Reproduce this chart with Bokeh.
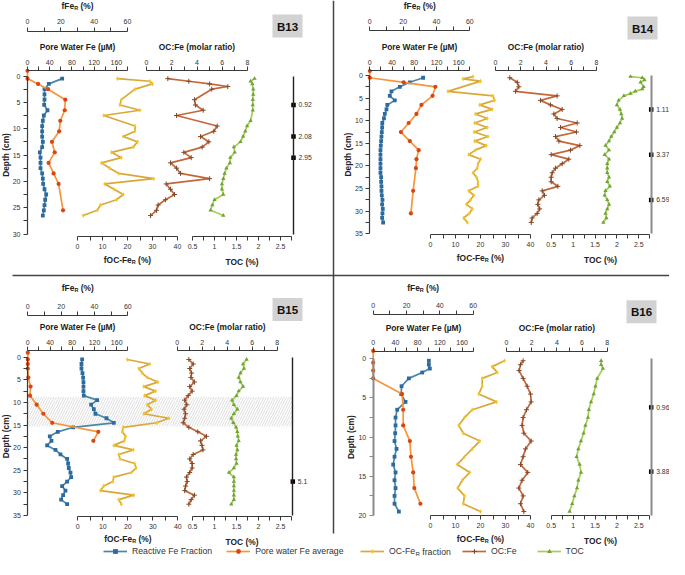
import math
from bokeh.plotting import figure
from bokeh.models import (Range1d, LinearAxis, FixedTicker, NumeralTickFormatter,
                          Legend, LegendItem)
from bokeh.core.properties import value
from bokeh.embed import file_html
from bokeh.resources import INLINE

# ======================= DATA =======================
# ---- B13 ----
b13_fe_depth = [0.5, 1.5, 2.5, 3.5, 4.5, 5.5, 6.5, 7.5, 8.5, 9.5, 10.5, 11.5, 12.5, 13.5,
                14.5, 15.5, 16.5, 17.5, 18.5, 19.5, 20.5, 21.5, 22.5, 23.5, 24.5, 25.5, 26.5]
b13_fe = [20.8, 12.8, 10.2, 10.2, 10.2, 10.0, 12.0, 9.8, 9.2, 8.8, 8.8, 8.8, 9.2, 8.8,
          7.4, 7.8, 7.8, 7.8, 8.8, 9.2, 9.4, 10.2, 11.2, 10.6, 10.2, 9.8, 9.2]
b13_pw_depth = [-1, 0.5, 1.5, 2.5, 4.5, 6.5, 8.5, 10.5, 12.5, 14.5, 16.5, 18.5, 20.5, 25.5]
b13_pw = [0, 0, 19, 37, 68, 67, 59, 57, 44, 49, 38, 47, 56, 64]
b13_frac_depth = [0.5, 1.0, 1.5, 2.5, 4.5, 5.5, 6.5, 7.5, 9.5, 10.5, 11.5, 12.5, 13.5, 14.5,
                  15.5, 16.5, 17.5, 18.5, 19.5, 20.5, 21.5, 22.5, 23.5, 24.5, 25.5, 26.5]
b13_frac = [16, 29, 30, 23, 17.5, 17, 25, 10.5, 23, 23, 18.3, 24, 22.3, 13.6,
            17.5, 9.6, 12.9, 16.5, 30.5, 10.9, 14.6, 18.3, 15.6, 9.2, 7.9, 2.3]
b13_ratio_depth = [0.5, 1.0, 1.5, 2.0, 2.5, 4.5, 5.5, 6.5, 7.5, 9.5, 10.5, 11.5, 12.5, 13.5,
                   14.5, 15.5, 16.5, 17.5, 18.5, 19.5, 20.5, 21.5, 22.5, 23.5, 24.5, 25.5, 26.5]
b13_ratio = [1.69, 3.35, 5.0, 6.44, 5.17, 3.8, 3.88, 4.49, 2.38, 5.6, 5.33, 4.28, 4.94, 4.41,
             2.96, 3.54, 1.9, 2.38, 2.69, 5.0, 1.56, 1.9, 2.22, 1.5, 0.92, 0.79, 0.32]
b13_toc_depth = [0.5, 1.0, 1.5, 2.5, 3.5, 4.5, 5.5, 6.5, 8.5, 9.5, 10.5, 11.5, 12.5, 13.5,
                 14.5, 15.5, 16.5, 17.5, 18.5, 19.5, 20.5, 21.5, 22.5, 23.5, 24.5, 25.5, 26.5]
b13_toc = [1.91, 1.82, 1.86, 1.88, 1.88, 1.87, 1.87, 1.87, 1.82, 1.74, 1.70, 1.65, 1.59, 1.44,
           1.46, 1.36, 1.35, 1.27, 1.23, 1.20, 1.17, 1.17, 1.20, 1.00, 0.95, 0.91, 1.20]
b13_mark_depth = [5.5, 11.5, 15.5]
b13_mark_label = ["0.92", "2.08", "2.95"]

# ---- B14 ----
b14_fe_depth = [0.5, 1.5, 2.5, 3.5, 4.5, 5.5, 6.5, 7.5, 8.5, 9.5, 10.5, 11.5, 12.5, 13.5, 14.5,
                15.5, 16.5, 17.5, 18.5, 19.5, 20.5, 21.5, 22.5, 23.5, 24.5, 25.5, 26.5, 27.5,
                28.5, 29.5, 30.5, 31.5, 32.5]
b14_fe = [32, 24, 18, 13, 12, 15, 10.5, 10, 9, 8.5, 7.5, 7.4, 7.2, 7, 6.8,
          6.6, 6.4, 6.4, 6.4, 6.4, 6.4, 6.4, 6.8, 6.8, 7.0, 7.0, 7.2, 7.6,
          7.4, 7.8, 7.6, 7.4, 8.0]
b14_pw_depth = [-1, 0.5, 1.5, 2.5, 4.5, 6.5, 8.5, 10.5, 12.5, 14.5, 16.5, 18.5, 20.5, 25.5, 30.5]
b14_pw = [0, 0, 61, 118, 113, 93, 84, 70, 56, 72, 88, 84, 83, 78, 74]
b14_frac_depth = [0.25, 0.75, 1.25, 3.5, 4.5, 5.5, 6.5, 7.5, 8.5, 9.5, 10.5, 11.5, 12.5, 13.5,
                  14.5, 15.5, 16.5, 17.5, 18.5, 19.5, 20.5, 21.5, 22.5, 23.5, 24.5, 25.5,
                  26.5, 27.5, 28.5, 29.5, 30.5, 31.5, 32.5]
b14_frac = [17, 13, 20, 7, 25, 25.6, 19.7, 24.7, 18, 22.7, 17.7, 22.7, 17.5, 23,
            17.7, 22.3, 17.9, 15.3, 20, 19, 18.7, 17, 18.4, 19, 19, 15.3,
            17.3, 16, 14.4, 16.7, 15.5, 13.3, 14.7]
b14_ratio_depth = b14_fe_depth
b14_ratio = [1.13, 1.72, 1.85, 1.58, 4.88, 3.56, 4.36, 5.28, 4.62, 4.88, 6.47, 5.15, 6.41, 4.75,
             5.02, 6.68, 5.94, 4.41, 5.81, 5.28, 4.75, 4.49, 4.41, 4.41, 4.94, 3.7, 3.88, 3.43,
             3.35, 3.5, 3.3, 2.9, 2.83]
b14_toc_depth = [0.25, 0.5, 1.0, 1.5, 2.5, 3.0, 3.5, 4.0, 4.5, 5.5, 6.5, 7.5, 8.5, 9.5, 10.5,
                 11.5, 12.5, 13.5, 14.5, 15.5, 16.5, 17.5, 18.5, 19.5, 20.5, 21.5, 22.5, 23.5,
                 24.5, 25.5, 26.5, 27.5, 28.5, 29.5, 30.5, 31.5, 32.5]
b14_toc = [2.31, 2.58, 2.63, 2.54, 2.61, 2.58, 2.42, 2.31, 2.16, 2.04, 2.0, 2.07, 2.1, 2.12, 2.07,
           2.0, 1.94, 1.87, 1.82, 1.74, 1.82, 1.72, 1.82, 1.78, 1.78, 1.78, 1.82, 1.78,
           1.84, 1.74, 1.72, 1.78, 1.82, 1.78, 1.74, 1.76, 1.69]
b14_mark_depth = [7.5, 17.5, 27.5]
b14_mark_label = ["1.11", "3.37", "6.59"]

# ---- B15 ----
b15_fe_depth = [0.5, 1.5, 2.5, 3.5, 4.5, 5.5, 6.5, 7.5, 8.5, 9.5, 10.5, 11.5, 12.5, 13.5, 14.5,
                15.5, 16.5, 17.5, 18.5, 19.5, 20.5, 21.5, 22.5, 23.5, 24.5, 25.5, 26.5, 27.5,
                28.5, 29.5, 30.5, 31.5, 32.5]
b15_fe = [32.6, 32.2, 32.2, 32.8, 33.2, 33.4, 33.4, 33.4, 33.6, 41.6, 38, 39.6, 40.6, 47.2, 51.6,
          27.2, 18, 13.2, 14.2, 11.6, 16.6, 19.6, 23.6, 24.2, 24.6, 25.6, 26, 23.6,
          20.6, 22.6, 21.2, 20, 23.6]
b15_pw_depth = [-1, 0.5, 1.5, 2.5, 4.5, 6.5, 8.5, 10.5, 12.5, 14.5, 16.5, 18.5]
b15_pw = [0, 0, 0, 0, 1, 5, 4, 16, 28, 44, 127, 118]
b15_frac_depth = b15_fe_depth
b15_frac = [19.8, 28.8, 24.4, 25.8, 27.8, 32, 26.4, 31.1, 26.7, 31.1, 27.8, 29.5, 26.4, 36.4, 31.5,
            18.2, 17.8, 19.1, 18.6, 14.4, 22.2, 16.4, 16.9, 22.7, 23.3, 21.4, 14.4, 14,
            10.4, 9.1, 22.4, 16.4, 17.4]
b15_ratio_depth = b15_fe_depth
b15_ratio = [0.93, 1.28, 1.0, 1.15, 1.1, 1.38, 1.0, 1.2, 0.88, 0.6, 0.77, 0.55, 0.67, 0.6, 0.48,
             0.93, 1.65, 2.34, 1.86, 1.98, 2.06, 1.28, 1.0, 1.2, 1.2, 1.0, 0.74, 0.8,
             0.67, 0.6, 1.38, 1.12, 0.93]
b15_toc_depth = b15_fe_depth
b15_toc = [1.73, 1.65, 1.67, 1.59, 1.55, 1.59, 1.65, 1.55, 1.50, 1.40, 1.44, 1.52, 1.44, 1.38, 1.43,
           1.49, 1.52, 1.53, 1.55, 1.50, 1.52, 1.49, 1.49, 1.50, 1.44, 1.33, 1.44, 1.44,
           1.44, 1.44, 1.44, 1.44, 1.38]
b15_mark_depth = [27.5]
b15_mark_label = ["5.1"]
b15_band = [8.8, 15.3]

# ---- B16 ----
b16_fe_depth = [0.25, 0.75, 1.25, 1.75, 2.5, 3.5, 4.5, 5.5, 6.5, 7.5, 8.5, 9.5, 10.5, 11.5,
                12.5, 13.5, 14.5, 15.5, 16.5, 17.5, 18.5, 19.5]
b16_fe = [33.4, 33.4, 34, 29.4, 21.4, 17, 16.8, 19.4, 14.4, 13.4, 13.4, 13.2, 12.8, 14,
          12.8, 12, 13.4, 12.8, 13.4, 12.8, 12.8, 15.4]
b16_pw_depth = [-1, 0.5, 1.5, 2.5, 4.5, 6.5, 8.5, 10.5, 12.5, 14.5, 16.5, 18.5]
b16_pw = [0, 0, 0, 0, 52, 54, 54, 66, 68, 72, 74, 85]
b16_frac_depth = [0.25, 1.0, 1.75, 2.5, 3.5, 4.5, 5.5, 6.5, 7.5, 8.5, 9.5, 10.5, 11.5,
                  12.5, 13.5, 14.5, 15.5, 16.5, 17.5, 18.5, 19.5]
b16_frac = [29.6, 24.7, 26.7, 20.7, 20.7, 19.3, 26.4, 16.7, 13.6, 11.3, 13.1, 19.7, 16.7,
            13.6, 10.7, 15.7, 12.7, 10.9, 13.6, 13.1, 20]
b16_ratio_depth = [0.25, 0.75, 1.5, 2.5, 3.5, 4.5, 5.5, 6.5, 7.5, 8.5, 9.5, 10.5, 11.5,
                   12.5, 13.5, 14.5, 15.5, 16.5, 17.5, 18.5, 19.5]
b16_ratio = [1.32, 1.11, 1.0, 1.32, 1.64, 1.91, 1.96, 1.59, 1.32, 1.24, 1.38, 1.96, 1.51,
             1.32, 1.11, 1.69, 1.24, 0.98, 1.32, 1.11, 1.38]
b16_toc_depth = [0.25, 0.75, 1.25, 2.5, 3.5, 4.5, 5.5, 6.5, 7.5, 8.5, 9.5, 10.5, 11.5,
                 12.5, 13.5, 14.5, 15.5, 16.5, 17.5, 18.5, 19.5]
b16_toc = [1.64, 1.64, 1.68, 1.55, 1.51, 1.47, 1.41, 1.36, 1.34, 1.28, 1.24, 1.18, 1.12,
           1.08, 1.15, 1.18, 1.12, 1.09, 1.03, 0.98, 0.92]
b16_mark_depth = [6.2, 14.4]
b16_mark_label = ["0.96", "3.88"]

# ---- tick labels ----
fe_ticks, fe_minor = [0, 20, 40, 60], [10, 30, 50]
pw_ticks, pw_minor = [0, 40, 80, 120, 160], [20, 60, 100, 140, 180]
ratio_ticks, ratio_minor = [0, 2, 4, 6, 8], [1, 3, 5, 7]
frac_ticks, frac_minor = [0, 10, 20, 30, 40], [5, 15, 25, 35]
toc_ticks, toc_minor = [0.5, 1, 1.5, 2, 2.5], [0.75, 1.25, 1.75, 2.25, 2.75]
depth_ticks = {30: [0, 5, 10, 15, 20, 25, 30], 35: [0, 5, 10, 15, 20, 25, 30, 35],
               20: [0, 5, 10, 15, 20]}
depth_minor = {30: [2.5, 7.5, 12.5, 17.5, 22.5, 27.5], 35: [2.5, 7.5, 12.5, 17.5, 22.5, 27.5, 32.5],
               20: [2.5, 7.5, 12.5, 17.5]}

DATA = {
    "B13": dict(fe=(b13_fe_depth, b13_fe), pw=(b13_pw_depth, b13_pw), frac=(b13_frac_depth, b13_frac),
                ratio=(b13_ratio_depth, b13_ratio), toc=(b13_toc_depth, b13_toc),
                marks=(b13_mark_depth, b13_mark_label)),
    "B14": dict(fe=(b14_fe_depth, b14_fe), pw=(b14_pw_depth, b14_pw), frac=(b14_frac_depth, b14_frac),
                ratio=(b14_ratio_depth, b14_ratio), toc=(b14_toc_depth, b14_toc),
                marks=(b14_mark_depth, b14_mark_label)),
    "B15": dict(fe=(b15_fe_depth, b15_fe), pw=(b15_pw_depth, b15_pw), frac=(b15_frac_depth, b15_frac),
                ratio=(b15_ratio_depth, b15_ratio), toc=(b15_toc_depth, b15_toc),
                marks=(b15_mark_depth, b15_mark_label)),
    "B16": dict(fe=(b16_fe_depth, b16_fe), pw=(b16_pw_depth, b16_pw), frac=(b16_frac_depth, b16_frac),
                ratio=(b16_ratio_depth, b16_ratio), toc=(b16_toc_depth, b16_toc),
                marks=(b16_mark_depth, b16_mark_label)),
}

# ======================= LAYOUT =======================
W, H = 669, 559
X0, Y0 = 0, 0
X1, Y1 = X0 + W, Y0 + H
FONT = "Liberation Sans"
AXC = "#3a3a3a"
GRAY = "#8a8a8a"
TXT = "#333333"

LAYOUT = {
    "B13": dict(fe=(27, 127, 30.7), pw=(27, 127, 70), ratio=(146, 247, 70), frac=(77, 177, 236),
                toc=(192, 280, 236), depth=(27, 75.5, 233.5), dmax=30, right=293,
                fe_title=(77, 5), frac_title=(127, 259), box=(287, 25.5), dcol=AXC, rcol="#222222"),
    "B14": dict(fe=(369.3, 469.3, 30), pw=(369.3, 469.3, 70), ratio=(495, 596, 70), frac=(430, 530, 234),
                toc=(550.7, 638.3, 234), depth=(369.3, 75, 233.3), dmax=35, right=650.7,
                fe_title=(419.3, 5), frac_title=(480, 257), box=(642, 27.5), dcol=AXC, rcol=GRAY),
    "B15": dict(fe=(27.3, 127.3, 315), pw=(27.3, 127.3, 350), ratio=(176.7, 276.7, 350), frac=(77.3, 177.3, 516),
                toc=(192, 280, 516), depth=(27.3, 356.7, 515), dmax=35, right=292.3,
                fe_title=(77.3, 287), frac_title=(127.3, 538.3), box=(287, 309), dcol=AXC, rcol="#222222"),
    "B16": dict(fe=(372.7, 472.7, 314), pw=(372.7, 472.7, 350.7), ratio=(506, 606.7, 350.7), frac=(430, 530, 515),
                toc=(550.7, 638.3, 515), depth=(372.7, 358.3, 515), dmax=20, right=650.7,
                fe_title=(422.7, 287), frac_title=(480, 538.3), box=(641, 311.3), dcol=GRAY, rcol=GRAY),
}

SERIES = [  # key, line colour, marker colour, marker, size, marker line width
    ("fe", "#4a87a6", "#2d6aa0", "square", 3.8, 0),
    ("pw", "#f7953b", "#d9460f", "circle", 4.2, 0),
    ("frac", "#d9a838", "#f4c52a", "diamond", 4.6, 0),
    ("ratio", "#c4683a", "#7f4a2c", "cross", 5, 1),
    ("toc", "#a6cc5c", "#6fa535", "triangle", 4.3, 0),
]

p = figure(width=W, height=H, x_range=Range1d(X0, X1), y_range=Range1d(Y1, Y0),
           x_axis_type=None, y_axis_type=None, output_backend="svg",
           toolbar_location=None, min_border=0)
p.outline_line_color = None

xr, yr = {}, {}


def hrange(name, v0, v1, q0, q1):
    k = (v1 - v0) / (q1 - q0)
    xr[name] = Range1d(start=v0 + (X0 - q0) * k, end=v0 + (X1 - q0) * k)


def vrange(name, d0, d1, q0, q1):
    k = (d1 - d0) / (q1 - q0)
    yr[name] = Range1d(start=d0 + (Y1 - q0) * k, end=d0 + (Y0 - q0) * k)


for k, L in LAYOUT.items():
    hrange(k + "_fe", 0, 60, L["fe"][0], L["fe"][1])
    hrange(k + "_pw", 0, 180, L["pw"][0], L["pw"][1])
    hrange(k + "_ratio", 0, 8, L["ratio"][0], L["ratio"][1])
    hrange(k + "_frac", 0, 40, L["frac"][0], L["frac"][1])
    hrange(k + "_toc", 0.5, 2.5, L["toc"][0], L["toc"][1])
    vrange(k + "_d", 0, L["dmax"], L["depth"][1], L["depth"][2])
p.extra_x_ranges = xr
p.extra_y_ranges = yr


def style_axis(ax, color=AXC, lw=1.2, standoff=2):
    ax.axis_line_color = color
    ax.axis_line_width = lw
    ax.major_tick_line_color = color
    ax.minor_tick_line_color = color
    ax.major_tick_line_width = 1
    ax.minor_tick_line_width = 1
    ax.major_tick_out = 4
    ax.major_tick_in = 0
    ax.minor_tick_out = 4
    ax.minor_tick_in = 0
    ax.major_label_text_font = FONT
    ax.major_label_text_font_size = "7px"
    ax.major_label_text_color = TXT
    ax.major_label_standoff = standoff
    ax.axis_label_text_font = FONT
    ax.axis_label_text_font_size = "8.4px"
    ax.axis_label_text_font_style = "bold"
    ax.axis_label_text_color = "#222222"
    ax.axis_label_standoff = 5


def haxis(side, rname, lo, hi, ticks, minor, loc, label="", standoff=2, fmt=None):
    ax = LinearAxis(x_range_name=rname, bounds=(lo, hi), fixed_location=loc,
                    ticker=FixedTicker(ticks=ticks, minor_ticks=minor), axis_label=label)
    style_axis(ax, standoff=standoff)
    if fmt is not None:
        ax.formatter = fmt
    p.add_layout(ax, side)
    return ax


BOLD_W = {'f': 333, 'F': 611, 'e': 556, 'O': 778, 'C': 722, '-': 333, ' ': 278,
          '(': 333, '%': 889, ')': 333, 'R': 722}
REG_W = {'O': 778, 'C': 722, '-': 333, 'F': 611, 'e': 556, 'R': 722, ' ': 278}


def txt(x, y, s, size, bold=False, align="left", color=TXT, baseline="middle", angle=0.0):
    p.text(x=[x], y=[y], text=[s], text_font=value(FONT), text_font_size=value(f"{size}px"),
           text_font_style="bold" if bold else "normal", text_align=align,
           text_baseline=baseline, text_color=color, angle=angle)


def sub_title(xc, y, main, sub, tail, size=8.4):
    ssz = size * 0.65
    w1 = sum(BOLD_W[c] for c in main) * size / 1000
    w2 = sum(BOLD_W[c] for c in sub) * ssz / 1000
    ws = BOLD_W[' '] * size / 1000
    w3 = sum(BOLD_W[c] for c in tail) * size / 1000
    x = xc - (w1 + w2 + ws + w3) / 2
    txt(x, y, main, size, bold=True, color="#222222")
    txt(x + w1, y + 2.5, sub, round(ssz, 2), bold=True, color="#222222")
    txt(x + w1 + w2 + ws, y, tail, size, bold=True, color="#222222")


# separators
p.segment(x0=[12], y0=[275], x1=[X1], y1=[275], line_color="#444444", line_width=1.5)
p.segment(x0=[333], y0=[Y0], x1=[333], y1=[533], line_color="#444444", line_width=1.5)

# hatched band in B15
p.quad(left=[LAYOUT["B15"]["depth"][0]], right=[LAYOUT["B15"]["right"]],
       top=[b15_band[0]], bottom=[b15_band[1]], y_range_name="B15_d",
       fill_alpha=0, line_color=None, hatch_pattern="right_diagonal_line",
       hatch_color="#d4d4d4", hatch_weight=0.8, hatch_scale=5)

legend_r = {}
for k, L in LAYOUT.items():
    D = DATA[k]
    ry = k + "_d"
    # axes
    haxis("above", k + "_fe", 0, 60, fe_ticks, fe_minor, L["fe"][2], standoff=3)
    haxis("above", k + "_pw", 0, 180, pw_ticks, pw_minor, L["pw"][2], label="Pore Water Fe (µM)")
    haxis("above", k + "_ratio", 0, 8, ratio_ticks, ratio_minor, L["ratio"][2], label="OC:Fe (molar ratio)")
    haxis("below", k + "_frac", 0, 40, frac_ticks, frac_minor, L["frac"][2], standoff=3)
    haxis("below", k + "_toc", 0.5, 2.75, toc_ticks, toc_minor, L["toc"][2], label="TOC (%)",
          standoff=3, fmt=NumeralTickFormatter(format="0.[0]"))
    dmax = L["dmax"]
    dax = LinearAxis(y_range_name=ry, bounds=(0, dmax), fixed_location=L["depth"][0],
                     ticker=FixedTicker(ticks=depth_ticks[dmax], minor_ticks=depth_minor[dmax]))
    style_axis(dax, color=L["dcol"], lw=1.2 if L["dcol"] == AXC else 2, standoff=3)
    p.add_layout(dax, "left")
    # depth title, rotated
    txt(L["depth"][0] - 22, (L["depth"][1] + L["depth"][2]) / 2, "Depth (cm)", 8.4, bold=True,
        align="center", color="#222222", angle=math.pi / 2)

    rax = LinearAxis(y_range_name=ry, bounds=(0, dmax), fixed_location=L["right"],
                     ticker=FixedTicker(ticks=[]))
    rax.axis_line_color = L["rcol"]
    rax.axis_line_width = 1.4 if L["rcol"] != GRAY else 2
    rax.major_tick_line_color = None
    rax.minor_tick_line_color = None
    rax.major_label_text_font_size = "0px"
    p.add_layout(rax, "right")

    # titles with subscripts
    sub_title(L["fe_title"][0], L["fe_title"][1], "fFe", "R", "(%)")
    sub_title(L["frac_title"][0], L["frac_title"][1], "fOC-Fe", "R", "(%)")

    # panel label box
    bx, by = L["box"]
    p.rect(x=[bx], y=[by], width=[30], height=[23], fill_color="#d2d2d2", line_color=None)
    txt(bx, by + 0.5, k, 11.5, bold=True, align="center", color="#111111")

    # series
    for key, lc, mc, mk, sz, mlw in SERIES:
        dep, vals = D[key]
        rl = p.line(x=vals, y=dep, x_range_name=k + "_" + key, y_range_name=ry,
                    line_color=lc, line_width=1.7)
        rs = p.scatter(x=vals, y=dep, x_range_name=k + "_" + key, y_range_name=ry,
                       marker=mk, size=sz, fill_color=mc, line_color=mc if mlw else None,
                       line_width=mlw if mlw else 1)
        if k == "B13":
            legend_r[key] = [rl, rs]

    # right-hand markers with labels
    md, ml = D["marks"]
    xs = [L["right"]] * len(md)
    p.scatter(x=xs, y=md, y_range_name=ry, marker="square", size=4.5,
              fill_color="#000000", line_color=None)
    p.text(x=xs, y=md, y_range_name=ry, text=ml, x_offset=5, text_baseline="middle",
           text_font=value(FONT), text_font_size=value("6.8px"), text_color=TXT)


def make_legend(items, xstart, spacing):
    lg = Legend(items=items, location=(xstart - X0, 2), orientation="horizontal",
                glyph_width=24, glyph_height=12, label_height=12, label_standoff=5,
                spacing=spacing, padding=0, margin=0, border_line_color=None,
                background_fill_alpha=0, label_text_font=FONT, label_text_font_size="8.7px",
                label_text_color=TXT)
    p.add_layout(lg)
    return lg


make_legend([LegendItem(label="Reactive Fe Fraction", renderers=legend_r["fe"]),
             LegendItem(label="Pore water Fe average", renderers=legend_r["pw"])], 103, 14)
make_legend([LegendItem(label="OC-Fe", renderers=legend_r["frac"])], 360, 10)
make_legend([LegendItem(label="OC:Fe", renderers=legend_r["ratio"]),
             LegendItem(label="TOC", renderers=legend_r["toc"])], 462, 20)
lx = 360 + 24 + 5 + sum(REG_W[c] for c in "OC-Fe") * 8.7 / 1000
txt(lx, 553.5, "R", 6)
txt(lx + 4.3 + 2.4, 551, "fraction", 8.7)

open("out.html", "w").write(file_html(p, INLINE))
